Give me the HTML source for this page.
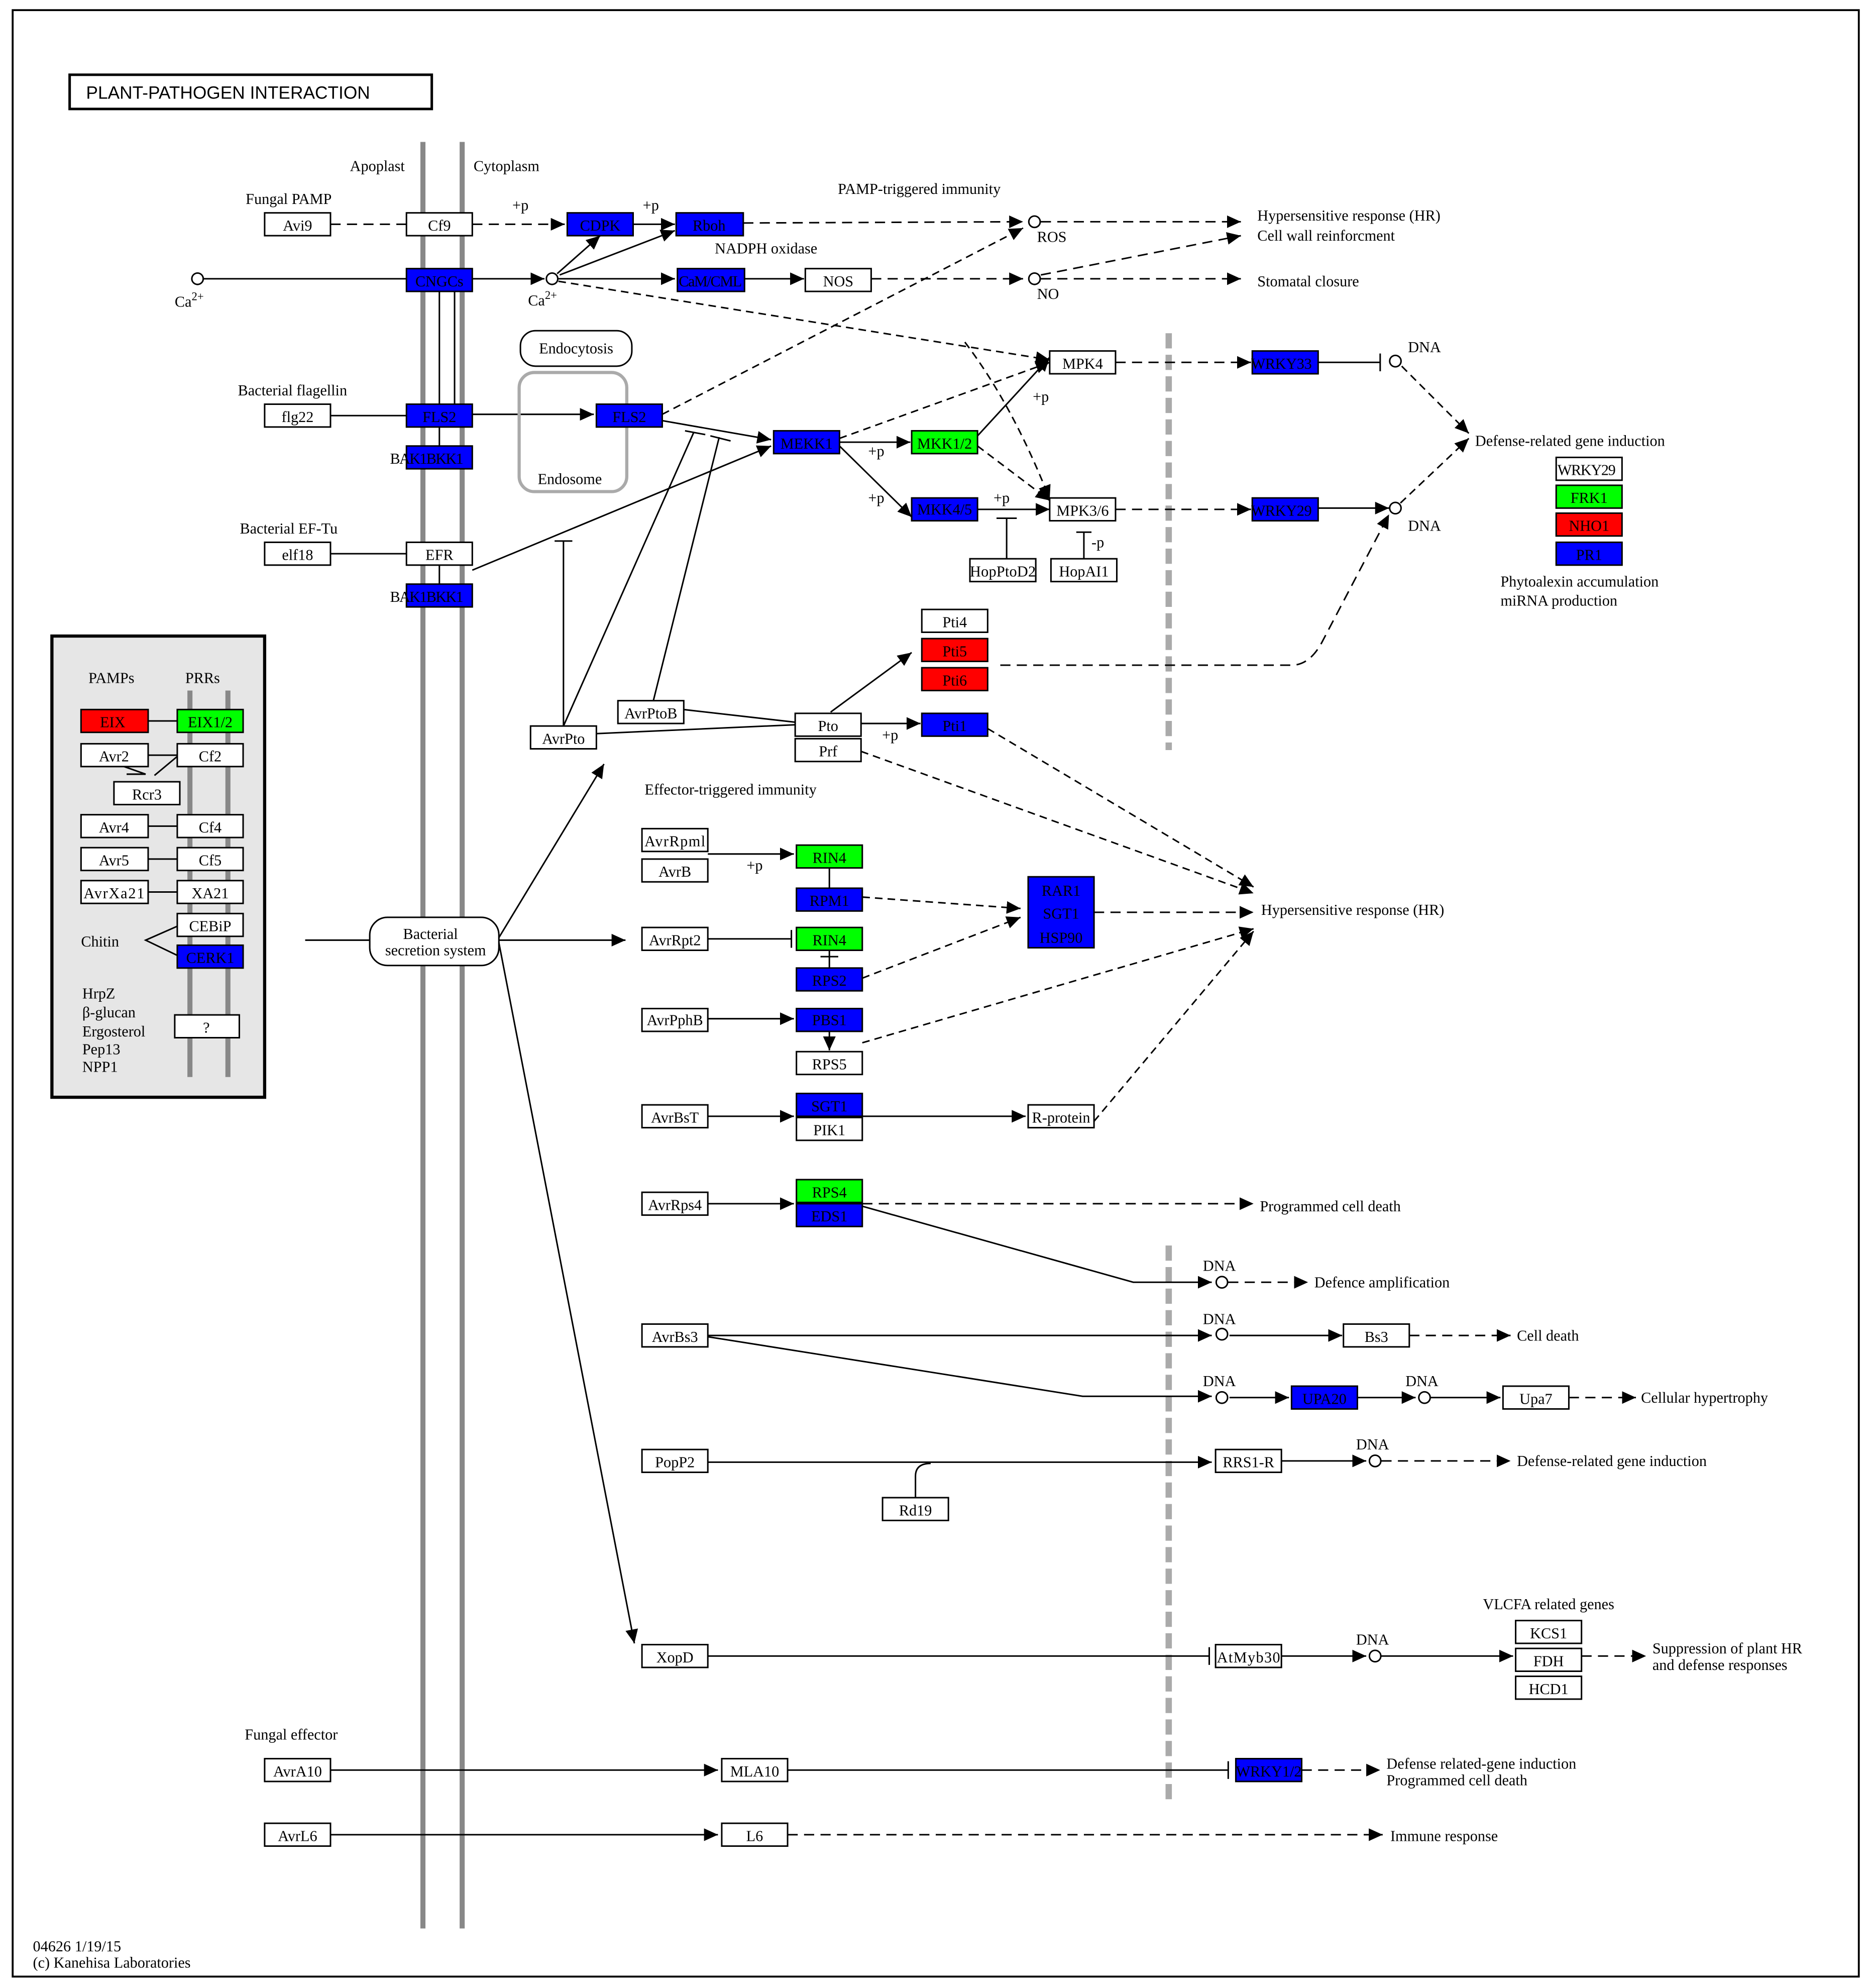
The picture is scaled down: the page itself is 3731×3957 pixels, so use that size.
<!DOCTYPE html>
<html><head><meta charset="utf-8"><style>
html,body{margin:0;padding:0;background:#fff;}
svg{display:block;}
text{font-family:"Liberation Serif",serif;font-size:12px;fill:#000;}
.b text{text-anchor:middle;}
</style></head><body>
<svg width="3731" height="3957" viewBox="0 0 1480 1569" preserveAspectRatio="none" xmlns="http://www.w3.org/2000/svg">
<defs>
<marker id="a" markerUnits="userSpaceOnUse" markerWidth="12" markerHeight="10" refX="11" refY="5" orient="auto"><path d="M0,0 L11,5 L0,10 Z" fill="#000"/></marker>
</defs>
<rect x="0" y="0" width="1480" height="1569" fill="#fff"/>
<rect x="10" y="8" width="1458" height="1552" fill="none" stroke="#000" stroke-width="1.5"/>
<rect x="55" y="59" width="286" height="27" fill="#fff" stroke="#000" stroke-width="2"/>
<text x="68" y="78" style="font-family:'Liberation Sans',sans-serif;font-size:14px">PLANT-PATHOGEN  INTERACTION</text>

<!-- membranes -->
<line x1="334" y1="112" x2="334" y2="1522" stroke="#888" stroke-width="4"/>
<line x1="365" y1="112" x2="365" y2="1522" stroke="#888" stroke-width="4"/>
<line x1="923" y1="263" x2="923" y2="592" stroke="#aaa" stroke-width="5" stroke-dasharray="12,5"/>
<line x1="923" y1="983" x2="923" y2="1423" stroke="#aaa" stroke-width="5" stroke-dasharray="12,5"/>

<!-- PAMP panel -->
<rect x="41" y="502" width="168" height="364" fill="#e6e6e6" stroke="#000" stroke-width="2.5"/>
<line x1="150" y1="545" x2="150" y2="850" stroke="#888" stroke-width="4"/>
<line x1="180" y1="545" x2="180" y2="850" stroke="#888" stroke-width="4"/>

<g fill="none" stroke="#000" stroke-width="1.2">
<!-- panel lines -->
<line x1="117" y1="569" x2="140" y2="569"/><line x1="117" y1="596" x2="140" y2="596"/>
<path d="M98,605 L115,611 L100,611 M140,597 L122,612"/>
<line x1="117" y1="652" x2="140" y2="652"/><line x1="117" y1="678" x2="140" y2="678"/><line x1="117" y1="704" x2="140" y2="704"/>
<path d="M140,731 L115,742 L140,754"/>
<!-- top rows -->
<line x1="261" y1="177" x2="321" y2="177" stroke-dasharray="8,5"/>
<line x1="373" y1="177" x2="446" y2="177" stroke-dasharray="8,5" marker-end="url(#a)"/>
<line x1="500" y1="177" x2="533" y2="177" marker-end="url(#a)"/>
<line x1="587" y1="176" x2="808" y2="175" stroke-dasharray="8,5" marker-end="url(#a)"/>
<line x1="822" y1="175" x2="980" y2="175" stroke-dasharray="8,5" marker-end="url(#a)"/>
<line x1="160" y1="220" x2="321" y2="220"/>
<line x1="373" y1="220" x2="430" y2="220" marker-end="url(#a)"/>
<line x1="440" y1="216" x2="474" y2="186" marker-end="url(#a)"/>
<line x1="442" y1="217" x2="533" y2="182" marker-end="url(#a)"/>
<line x1="441" y1="220" x2="533" y2="220" marker-end="url(#a)"/>
<line x1="587" y1="220" x2="635" y2="220" marker-end="url(#a)"/>
<line x1="688" y1="220" x2="808" y2="220" stroke-dasharray="8,5" marker-end="url(#a)"/>
<line x1="822" y1="220" x2="980" y2="220" stroke-dasharray="8,5" marker-end="url(#a)"/>
<line x1="822" y1="217" x2="980" y2="186" stroke-dasharray="8,5" marker-end="url(#a)"/>
<line x1="441" y1="222" x2="829" y2="284" stroke-dasharray="6,4" marker-end="url(#a)"/>
<path d="M762,270 Q800,320 829,394" stroke-dasharray="6,4" marker-end="url(#a)"/>
<line x1="347" y1="230" x2="347" y2="319"/><line x1="359" y1="230" x2="359" y2="319"/>
<line x1="347" y1="337" x2="347" y2="352"/>
<line x1="347" y1="446" x2="347" y2="461"/>
<!-- flagellin -->
<line x1="261" y1="328" x2="321" y2="328"/>
<line x1="373" y1="327" x2="469" y2="327" marker-end="url(#a)"/>
<line x1="523" y1="332" x2="609" y2="347" marker-end="url(#a)"/>
<line x1="523" y1="327" x2="808" y2="180" stroke-dasharray="6,4" marker-end="url(#a)"/>
<line x1="261" y1="437" x2="321" y2="437"/>
<line x1="373" y1="450" x2="609" y2="352" marker-end="url(#a)"/>
<!-- MAPK -->
<line x1="663" y1="349" x2="719" y2="349" marker-end="url(#a)"/>
<line x1="663" y1="352" x2="720" y2="408" marker-end="url(#a)"/>
<line x1="663" y1="346" x2="829" y2="286" stroke-dasharray="6,4" marker-end="url(#a)"/>
<line x1="772" y1="344" x2="829" y2="282" marker-end="url(#a)"/>
<line x1="772" y1="352" x2="829" y2="395" stroke-dasharray="6,4" marker-end="url(#a)"/>
<line x1="772" y1="402" x2="829" y2="402" marker-end="url(#a)"/>
<path d="M795,441 L795,409 M787,409 L803,409"/>
<path d="M856,441 L856,420 M850,420 L862,420"/>
<line x1="881" y1="286" x2="988" y2="286" stroke-dasharray="8,5" marker-end="url(#a)"/>
<line x1="881" y1="402" x2="988" y2="402" stroke-dasharray="8,5" marker-end="url(#a)"/>
<path d="M1041,286 L1090,286 M1090,279 L1090,293"/>
<line x1="1041" y1="401" x2="1097" y2="401" marker-end="url(#a)"/>
<line x1="1107" y1="289" x2="1160" y2="342" stroke-dasharray="6,4" marker-end="url(#a)"/>
<line x1="1106" y1="397" x2="1160" y2="346" stroke-dasharray="6,4" marker-end="url(#a)"/>
<path d="M790,525 L1020,525 Q1035,525 1045,505 L1097,406" stroke-dasharray="8,5" marker-end="url(#a)"/>
<!-- AvrPto -->
<line x1="445" y1="573" x2="548" y2="341"/>
<path d="M445,573 L445,427 M438,427 L452,427"/>
<line x1="516" y1="553" x2="568" y2="345"/>
<path d="M541,340 L557,343 M561,344 L577,348"/>
<line x1="471" y1="579" x2="628" y2="572"/>
<line x1="540" y1="560" x2="628" y2="570"/>
<line x1="656" y1="562" x2="720" y2="515" marker-end="url(#a)"/>
<line x1="680" y1="571" x2="727" y2="571" marker-end="url(#a)"/>
<line x1="680" y1="593" x2="990" y2="705" stroke-dasharray="6,4" marker-end="url(#a)"/>
<line x1="780" y1="575" x2="990" y2="700" stroke-dasharray="6,4" marker-end="url(#a)"/>
<!-- secretion -->
<line x1="241" y1="742" x2="292" y2="742"/>
<line x1="394" y1="742" x2="494" y2="742" marker-end="url(#a)"/>
<line x1="394" y1="740" x2="477" y2="603" marker-end="url(#a)"/>
<line x1="394" y1="744" x2="501" y2="1297" marker-end="url(#a)"/>
<!-- ETI -->
<line x1="559" y1="674" x2="627" y2="674" marker-end="url(#a)"/>
<line x1="655" y1="685" x2="655" y2="701"/>
<line x1="681" y1="708" x2="806" y2="717" stroke-dasharray="6,4" marker-end="url(#a)"/>
<line x1="864" y1="720" x2="990" y2="720" stroke-dasharray="8,5" marker-end="url(#a)"/>
<path d="M559,741 L625,741 M625,734 L625,748"/>
<path d="M655,750 L655,764 M648,755 L662,755"/>
<line x1="681" y1="772" x2="806" y2="724" stroke-dasharray="6,4" marker-end="url(#a)"/>
<line x1="559" y1="804" x2="627" y2="804" marker-end="url(#a)"/>
<line x1="655" y1="814" x2="655" y2="829" marker-end="url(#a)"/>
<line x1="681" y1="823" x2="990" y2="733" stroke-dasharray="6,4" marker-end="url(#a)"/>
<line x1="559" y1="881" x2="627" y2="881" marker-end="url(#a)"/>
<line x1="681" y1="881" x2="810" y2="881" marker-end="url(#a)"/>
<line x1="864" y1="885" x2="990" y2="735" stroke-dasharray="6,4" marker-end="url(#a)"/>
<line x1="559" y1="950" x2="627" y2="950" marker-end="url(#a)"/>
<line x1="681" y1="950" x2="990" y2="950" stroke-dasharray="8,5" marker-end="url(#a)"/>
<path d="M681,952 L895,1012 L957,1012" marker-end="url(#a)"/>
<line x1="970" y1="1012" x2="1033" y2="1012" stroke-dasharray="8,5" marker-end="url(#a)"/>
<line x1="559" y1="1054" x2="957" y2="1054" marker-end="url(#a)"/>
<line x1="971" y1="1054" x2="1060" y2="1054" marker-end="url(#a)"/>
<line x1="1113" y1="1054" x2="1193" y2="1054" stroke-dasharray="8,5" marker-end="url(#a)"/>
<path d="M559,1055 L855,1102 L957,1102" marker-end="url(#a)"/>
<line x1="971" y1="1103" x2="1018" y2="1103" marker-end="url(#a)"/>
<line x1="1072" y1="1103" x2="1118" y2="1103" marker-end="url(#a)"/>
<line x1="1130" y1="1103" x2="1185" y2="1103" marker-end="url(#a)"/>
<line x1="1239" y1="1103" x2="1292" y2="1103" stroke-dasharray="8,5" marker-end="url(#a)"/>
<line x1="559" y1="1154" x2="957" y2="1154" marker-end="url(#a)"/>
<path d="M723,1182 L723,1165 Q723,1155 735,1155"/>
<line x1="1012" y1="1153" x2="1079" y2="1153" marker-end="url(#a)"/>
<line x1="1091" y1="1153" x2="1193" y2="1153" stroke-dasharray="8,5" marker-end="url(#a)"/>
<path d="M559,1307 L955,1307 M955,1300 L955,1314"/>
<line x1="1012" y1="1307" x2="1079" y2="1307" marker-end="url(#a)"/>
<line x1="1091" y1="1307" x2="1195" y2="1307" marker-end="url(#a)"/>
<line x1="1249" y1="1307" x2="1300" y2="1307" stroke-dasharray="8,5" marker-end="url(#a)"/>
<line x1="261" y1="1397" x2="567" y2="1397" marker-end="url(#a)"/>
<path d="M622,1397 L970,1397 M970,1390 L970,1404"/>
<line x1="1028" y1="1397" x2="1090" y2="1397" stroke-dasharray="8,5" marker-end="url(#a)"/>
<line x1="261" y1="1448" x2="567" y2="1448" marker-end="url(#a)"/>
<line x1="622" y1="1448" x2="1092" y2="1448" stroke-dasharray="8,5" marker-end="url(#a)"/>
</g>

<!-- circles -->
<g fill="#fff" stroke="#000" stroke-width="1.2">
<circle cx="156" cy="220" r="4.5"/><circle cx="436" cy="220" r="4.5"/>
<circle cx="817" cy="175" r="4.5"/><circle cx="817" cy="220" r="4.5"/>
<circle cx="1102" cy="285" r="4.5"/><circle cx="1102" cy="401" r="4.5"/>
<circle cx="965" cy="1012" r="4.5"/><circle cx="965" cy="1053" r="4.5"/>
<circle cx="965" cy="1103" r="4.5"/><circle cx="1125" cy="1103" r="4.5"/>
<circle cx="1086" cy="1153" r="4.5"/><circle cx="1086" cy="1307" r="4.5"/>
</g>

<!-- rounded shapes -->
<rect x="411" y="261" width="88" height="28" rx="12" fill="#fff" stroke="#000" stroke-width="1.2"/>
<text x="455" y="279" text-anchor="middle">Endocytosis</text>
<rect x="410" y="294" width="85" height="94" rx="12" fill="none" stroke="#aaa" stroke-width="2.5"/>
<text x="450" y="382" text-anchor="middle">Endosome</text>
<rect x="292" y="724" width="102" height="38" rx="14" fill="#fff" stroke="#000" stroke-width="1.2"/>
<text x="340" y="741" text-anchor="middle">Bacterial</text>
<text x="344" y="754" text-anchor="middle">secretion system</text>

<!-- boxes -->
<g class="b" stroke-width="1.2">
<g fill="#fff" stroke="#000">
<rect x="209" y="168" width="52" height="18"/><rect x="321" y="168" width="52" height="18"/>
<rect x="636" y="212" width="52" height="18"/>
<rect x="209" y="319" width="52" height="18"/><rect x="209" y="428" width="52" height="18"/>
<rect x="321" y="428" width="52" height="18"/>
<rect x="829" y="277" width="52" height="18"/><rect x="829" y="393" width="52" height="18"/>
<rect x="766" y="441" width="52" height="18"/><rect x="830" y="441" width="52" height="18"/>
<rect x="1229" y="361" width="52" height="18"/>
<rect x="728" y="481" width="52" height="18"/>
<rect x="419" y="573" width="52" height="18"/><rect x="488" y="553" width="52" height="18"/>
<rect x="628" y="563" width="52" height="18"/><rect x="628" y="583" width="52" height="18"/>
<rect x="507" y="654" width="52" height="18"/><rect x="507" y="678" width="52" height="18"/>
<rect x="507" y="732" width="52" height="18"/><rect x="507" y="796" width="52" height="18"/>
<rect x="629" y="830" width="52" height="18"/>
<rect x="507" y="872" width="52" height="18"/><rect x="629" y="882" width="52" height="18"/>
<rect x="812" y="872" width="52" height="18"/>
<rect x="507" y="941" width="52" height="18"/>
<rect x="507" y="1045" width="52" height="18"/><rect x="1061" y="1045" width="52" height="18"/>
<rect x="1187" y="1094" width="52" height="18"/>
<rect x="507" y="1144" width="52" height="18"/><rect x="960" y="1144" width="52" height="18"/>
<rect x="697" y="1182" width="52" height="18"/>
<rect x="507" y="1298" width="52" height="18"/><rect x="960" y="1298" width="52" height="18"/>
<rect x="1197" y="1279" width="52" height="18"/><rect x="1197" y="1301" width="52" height="18"/><rect x="1197" y="1323" width="52" height="18"/>
<rect x="209" y="1388" width="52" height="18"/><rect x="570" y="1388" width="52" height="18"/>
<rect x="209" y="1439" width="52" height="18"/><rect x="570" y="1439" width="52" height="18"/>
<rect x="64" y="587" width="53" height="18"/><rect x="140" y="587" width="52" height="18"/>
<rect x="90" y="617" width="52" height="18"/>
<rect x="64" y="643" width="53" height="18"/><rect x="140" y="643" width="52" height="18"/>
<rect x="64" y="669" width="53" height="18"/><rect x="140" y="669" width="52" height="18"/>
<rect x="64" y="695" width="53" height="18"/><rect x="140" y="695" width="52" height="18"/>
<rect x="140" y="721" width="52" height="18"/>
<rect x="138" y="801" width="51" height="18"/>
</g>
<g fill="#0000ff" stroke="#000">
<rect x="448" y="168" width="52" height="18"/><rect x="534" y="168" width="53" height="18"/>
<rect x="321" y="212" width="52" height="18"/><rect x="535" y="212" width="53" height="18"/>
<rect x="321" y="319" width="52" height="18"/><rect x="471" y="319" width="52" height="18"/>
<rect x="321" y="352" width="52" height="18"/><rect x="321" y="461" width="52" height="18"/>
<rect x="611" y="340" width="52" height="18"/><rect x="720" y="393" width="52" height="18"/>
<rect x="989" y="277" width="52" height="18"/><rect x="989" y="393" width="52" height="18"/>
<rect x="1229" y="428" width="52" height="18"/>
<rect x="728" y="563" width="52" height="18"/>
<rect x="629" y="701" width="52" height="18"/><rect x="812" y="692" width="52" height="56"/>
<rect x="629" y="764" width="52" height="18"/><rect x="629" y="796" width="52" height="18"/>
<rect x="629" y="863" width="52" height="18"/><rect x="629" y="950" width="52" height="18"/>
<rect x="1020" y="1094" width="52" height="18"/><rect x="976" y="1388" width="52" height="18"/>
<rect x="140" y="746" width="52" height="18"/>
</g>
<g fill="#00ff00" stroke="#000">
<rect x="720" y="340" width="52" height="18"/><rect x="1229" y="383" width="52" height="18"/>
<rect x="629" y="667" width="52" height="18"/><rect x="629" y="732" width="52" height="18"/>
<rect x="629" y="931" width="52" height="18"/><rect x="140" y="560" width="52" height="18"/>
</g>
<g fill="#ff0000" stroke="#000">
<rect x="1229" y="405" width="52" height="18"/><rect x="728" y="504" width="52" height="18"/>
<rect x="728" y="527" width="52" height="18"/><rect x="64" y="560" width="53" height="18"/>
</g>
<text x="235" y="182">Avi9</text><text x="347" y="182">Cf9</text><text x="474" y="182">CDPK</text><text x="560" y="182">Rboh</text>
<text x="347" y="226">CNGCs</text><text x="561" y="226" textLength="50">CaM/CML</text><text x="662" y="226">NOS</text>
<text x="235" y="333">flg22</text><text x="347" y="333">FLS2</text><text x="497" y="333">FLS2</text>
<text x="337" y="366" textLength="58">BAK1BKK1</text>
<text x="235" y="442">elf18</text><text x="347" y="442">EFR</text><text x="337" y="475" textLength="58">BAK1BKK1</text>
<text x="637" y="354">MEKK1</text><text x="746" y="354">MKK1/2</text><text x="746" y="406">MKK4/5</text>
<text x="855" y="291">MPK4</text><text x="855" y="407">MPK3/6</text>
<text x="792" y="455" textLength="52">HopPtoD2</text><text x="856" y="455">HopAI1</text>
<text x="1012" y="291" textLength="48">WRKY33</text><text x="1012" y="407" textLength="48">WRKY29</text>
<text x="1253" y="375" textLength="46">WRKY29</text><text x="1255" y="397">FRK1</text><text x="1255" y="419">NHO1</text><text x="1255" y="442">PR1</text>
<text x="754" y="495">Pti4</text><text x="754" y="518">Pti5</text><text x="754" y="541">Pti6</text>
<text x="445" y="587">AvrPto</text><text x="514" y="567">AvrPtoB</text>
<text x="654" y="577">Pto</text><text x="654" y="597">Prf</text><text x="754" y="577">Pti1</text>
<text x="533" y="668" textLength="48">AvrRpml</text><text x="533" y="692">AvrB</text>
<text x="655" y="681">RIN4</text><text x="655" y="715">RPM1</text>
<text x="838" y="707">RAR1</text><text x="838" y="725">SGT1</text><text x="838" y="744">HSP90</text>
<text x="533" y="746">AvrRpt2</text><text x="655" y="746">RIN4</text><text x="655" y="778">RPS2</text>
<text x="533" y="809">AvrPphB</text><text x="655" y="809">PBS1</text><text x="655" y="844">RPS5</text>
<text x="533" y="886">AvrBsT</text><text x="655" y="877">SGT1</text><text x="655" y="896">PIK1</text>
<text x="838" y="886" textLength="46">R-protein</text>
<text x="533" y="955">AvrRps4</text><text x="655" y="945">RPS4</text><text x="655" y="964">EDS1</text>
<text x="533" y="1059">AvrBs3</text><text x="1087" y="1059">Bs3</text>
<text x="1046" y="1108">UPA20</text><text x="1213" y="1108">Upa7</text>
<text x="533" y="1158">PopP2</text><text x="986" y="1158">RRS1-R</text><text x="723" y="1196">Rd19</text>
<text x="533" y="1312">XopD</text><text x="986" y="1312" textLength="50">AtMyb30</text>
<text x="1223" y="1293">KCS1</text><text x="1223" y="1315">FDH</text><text x="1223" y="1337">HCD1</text>
<text x="235" y="1402">AvrA10</text><text x="596" y="1402">MLA10</text><text x="1002" y="1402">WRKY1/2</text>
<text x="235" y="1453">AvrL6</text><text x="596" y="1453">L6</text>
<text x="89" y="574">EIX</text><text x="166" y="574">EIX1/2</text>
<text x="90" y="601">Avr2</text><text x="166" y="601">Cf2</text><text x="116" y="631">Rcr3</text>
<text x="90" y="657">Avr4</text><text x="166" y="657">Cf4</text>
<text x="90" y="683">Avr5</text><text x="166" y="683">Cf5</text>
<text x="90" y="709" textLength="48">AvrXa21</text><text x="166" y="709">XA21</text>
<text x="166" y="735">CEBiP</text><text x="166" y="760">CERK1</text>
<text x="163" y="815">?</text>
</g>

<!-- free labels -->
<text x="298" y="135" text-anchor="middle">Apoplast</text>
<text x="400" y="135" text-anchor="middle">Cytoplasm</text>
<text x="228" y="161" text-anchor="middle">Fungal PAMP</text>
<text x="411" y="166" text-anchor="middle">+p</text><text x="514" y="166" text-anchor="middle">+p</text>
<text x="726" y="153" text-anchor="middle">PAMP-triggered immunity</text>
<text x="605" y="200" text-anchor="middle">NADPH oxidase</text>
<text x="819" y="191">ROS</text><text x="819" y="236">NO</text>
<text x="138" y="242">Ca<tspan dy="-5" font-size="9">2+</tspan></text>
<text x="417" y="241">Ca<tspan dy="-5" font-size="9">2+</tspan></text>
<text x="993" y="174">Hypersensitive response (HR)</text>
<text x="993" y="190">Cell wall reinforcment</text>
<text x="993" y="226">Stomatal closure</text>
<text x="231" y="312" text-anchor="middle">Bacterial flagellin</text>
<text x="228" y="421" text-anchor="middle">Bacterial EF-Tu</text>
<text x="692" y="360" text-anchor="middle">+p</text><text x="822" y="317" text-anchor="middle">+p</text>
<text x="692" y="397" text-anchor="middle">+p</text><text x="791" y="397" text-anchor="middle">+p</text>
<text x="862" y="432">-p</text>
<text x="1112" y="278">DNA</text><text x="1112" y="419">DNA</text>
<text x="1165" y="352">Defense-related gene induction</text>
<text x="1185" y="463">Phytoalexin accumulation</text>
<text x="1185" y="478">miRNA production</text>
<text x="703" y="584" text-anchor="middle">+p</text>
<text x="577" y="627" text-anchor="middle">Effector-triggered immunity</text>
<text x="596" y="687" text-anchor="middle">+p</text>
<text x="996" y="722">Hypersensitive response (HR)</text>
<text x="995" y="956">Programmed cell death</text>
<text x="950" y="1003">DNA</text><text x="1038" y="1016">Defence amplification</text>
<text x="950" y="1045">DNA</text><text x="1198" y="1058">Cell death</text>
<text x="950" y="1094">DNA</text><text x="1110" y="1094">DNA</text><text x="1296" y="1107">Cellular hypertrophy</text>
<text x="1071" y="1144">DNA</text><text x="1198" y="1157">Defense-related gene induction</text>
<text x="1071" y="1298">DNA</text>
<text x="1223" y="1270" text-anchor="middle">VLCFA related genes</text>
<text x="1305" y="1305">Suppression of plant HR</text>
<text x="1305" y="1318">and defense responses</text>
<text x="230" y="1373" text-anchor="middle">Fungal effector</text>
<text x="1095" y="1396">Defense related-gene induction</text>
<text x="1095" y="1409">Programmed cell death</text>
<text x="1098" y="1453">Immune response</text>
<text x="88" y="539" text-anchor="middle">PAMPs</text><text x="160" y="539" text-anchor="middle">PRRs</text>
<text x="64" y="747">Chitin</text>
<text x="65" y="788">HrpZ</text><text x="65" y="803">β-glucan</text><text x="65" y="818">Ergosterol</text><text x="65" y="832">Pep13</text><text x="65" y="846">NPP1</text>
<text x="26" y="1540">04626 1/19/15</text>
<text x="26" y="1553">(c) Kanehisa Laboratories</text>
</svg>
</body></html>
